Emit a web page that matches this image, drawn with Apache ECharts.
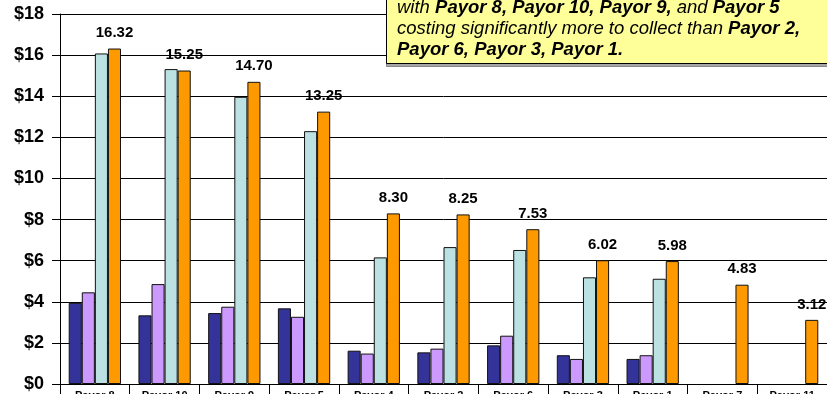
<!DOCTYPE html>
<html>
<head>
<meta charset="utf-8">
<script src="https://cdn.jsdelivr.net/npm/echarts@6/dist/echarts.min.js"></script>
<style>
  html, body { margin: 0; padding: 0; background: #ffffff; }
  #chart { width: 827px; height: 394px; }
</style>
</head>
<body>
<div id="chart"></div>
<script>
// Collection cost per payor, four measures per payor
const payors = ['Payor 8', 'Payor 10', 'Payor 9', 'Payor 5', 'Payor 4', 'Payor 2',
                'Payor 6', 'Payor 3', 'Payor 1', 'Payor 7', 'Payor 11'];
const seriesA = [3.95, 3.34, 3.45, 3.68, 1.62, 1.54, 1.88, 1.40, 1.22, null, null];
const seriesB = [4.46, 4.86, 3.76, 3.27, 1.48, 1.72, 2.35, 1.22, 1.40, null, null];
const seriesC = [16.08, 15.32, 13.97, 12.30, 6.16, 6.66, 6.52, 5.19, 5.12, null, null];
const seriesD = [16.32, 15.25, 14.70, 13.25, 8.30, 8.25, 7.53, 6.02, 5.98, 4.83, 3.12];
const yTicks = { min: 0, max: 18, interval: 2 };

const font = '"Liberation Sans", Arial, sans-serif';

function barSeries(name, data, color, withLabel) {
  return {
    name: name,
    type: 'bar',
    data: data,
    barGap: '0%',
    barCategoryGap: '25%',
    itemStyle: { color: color, borderColor: '#111', borderWidth: 1 },
    label: withLabel ? {
      show: true,
      position: 'top',
      distance: 8,
      formatter: p => p.value.toFixed(2),
      fontFamily: font,
      fontWeight: 'bold',
      fontSize: 15,
      color: '#000'
    } : { show: false },
    silent: true
  };
}

const chart = echarts.init(document.getElementById('chart'), null, { renderer: 'canvas' });
chart.setOption({
  animation: false,
  backgroundColor: '#ffffff',
  grid: { left: 60, right: 0, top: 14, bottom: 10, containLabel: false, outerBoundsMode: 'none' },
  xAxis: {
    type: 'category',
    data: payors,
    axisLine: { lineStyle: { color: '#000', width: 1 } },
    axisTick: { show: true, length: 14, lineStyle: { color: '#000' }, alignWithLabel: false },
    axisLabel: {
      margin: 6,
      fontFamily: font,
      fontWeight: 'bold',
      fontSize: 11,
      color: '#000',
      interval: 0
    }
  },
  yAxis: {
    type: 'value',
    min: yTicks.min,
    max: yTicks.max,
    interval: yTicks.interval,
    axisLine: { show: true, lineStyle: { color: '#000', width: 1 } },
    axisTick: { show: true, length: 8, inside: false, lineStyle: { color: '#000' } },
    splitLine: { show: true, lineStyle: { color: '#000', width: 1 } },
    axisLabel: {
      margin: 16,
      formatter: v => '$' + v,
      fontFamily: font,
      fontWeight: 'bold',
      fontSize: 18,
      color: '#000'
    }
  },
  series: [
    barSeries('A', seriesA, '#333399', false),
    barSeries('B', seriesB, '#CC99FF', false),
    barSeries('C', seriesC, '#BCE1E3', false),
    barSeries('D', seriesD, '#FF9900', true)
  ],
  graphic: [
    {
      type: 'rect',
      left: 386,
      top: -20,
      shape: { width: 460, height: 83 },
      style: {
        fill: '#FFFF99',
        stroke: '#000',
        lineWidth: 1,
        shadowColor: 'rgba(0,0,0,0.35)',
        shadowOffsetX: 0,
        shadowOffsetY: 3,
        shadowBlur: 0
      },
      z: 100
    },
    {
      type: 'text',
      left: 397,
      top: -3,
      z: 101,
      style: {
        text: '{n|with }{b|Payor 8, Payor 10, Payor 9,}{n| and }{b|Payor 5}\n' +
              '{n|costing significantly more to collect than }{b|Payor 2,}\n' +
              '{b|Payor 6, Payor 3, Payor 1.}',
        fontFamily: font,
        fontSize: 18.5,
        lineHeight: 21,
        fill: '#000',
        rich: {
          n: { fontFamily: font, fontSize: 18.5, fontStyle: 'italic', lineHeight: 21, fill: '#000' },
          b: { fontFamily: font, fontSize: 18.5, fontStyle: 'italic', fontWeight: 'bold', lineHeight: 21, fill: '#000' }
        }
      }
    }
  ]
});
</script>
</body>
</html>
